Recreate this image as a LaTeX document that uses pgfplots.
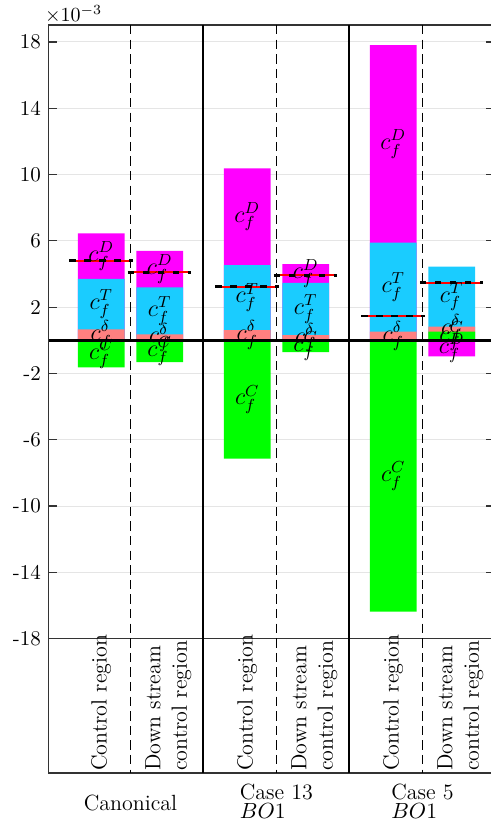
\documentclass[border=0pt]{standalone}
\usepackage{pgfplots}
\pgfplotsset{compat=1.18}
\definecolor{cD}{RGB}{255,0,255}
\definecolor{cT}{RGB}{26,204,255}
\definecolor{cdel}{RGB}{255,128,128}
\definecolor{cC}{RGB}{0,255,0}
\begin{document}
\fontsize{11}{13.2}\selectfont
\begin{tikzpicture}
\useasboundingbox (-24.35pt,-26.5pt) rectangle (221.15pt,386.5pt);
\begin{axis}[
 at={(0pt,0pt)}, anchor=south west,
 scale only axis, width=222.4pt, height=374pt,
 xmin=0.44, xmax=3.4866, ymin=-26.1, ymax=19.02,
 xtick=\empty,
 ytick={-18,-14,-10,-6,-2,2,6,10,14,18},
 yticklabels={-18,-14,-10,-6,-2,2,6,10,14,18},
 ymajorgrids, grid style={black!10, line width=0.5pt},
 tick align=inside, major tick length=4pt,
 axis line style={black!80, line width=0.65pt},
 ytick style={black!80, line width=0.6pt},
 yticklabel style={font=\fontsize{10.5}{12}\selectfont},
 clip=false,
]
% cumulative tops of the stacked segments (x 10^-3)
\addplot[ybar, bar width=0.32, bar shift=0pt, fill=cD, draw=none] coordinates {(0.8,6.45) (1.2,5.39) (1.8,10.37) (2.2,4.60) (2.8,17.81) (3.2,-0.97)};
\addplot[ybar, bar width=0.32, bar shift=0pt, fill=cT, draw=none] coordinates {(0.8,3.70) (1.2,3.20) (1.8,4.54) (2.2,3.47) (2.8,5.89) (3.2,4.44)};
\addplot[ybar, bar width=0.32, bar shift=0pt, fill=cdel, draw=none] coordinates {(0.8,0.66) (1.2,0.36) (1.8,0.62) (2.2,0.32) (2.8,0.52) (3.2,0.82)};
\addplot[ybar, bar width=0.32, bar shift=0pt, fill=cC, draw=none] coordinates {(0.8,-1.63) (1.2,-1.31) (1.8,-7.14) (2.2,-0.71) (2.8,-16.37) (3.2,0.52)};

% frame lines
\draw[black, line width=1.3pt] (axis cs:0.44,0) -- (axis cs:3.4866,0);
\draw[black!80, line width=0.7pt] (axis cs:0.44,-18) -- (axis cs:3.4866,-18);
\draw[black!80, line width=0.65pt] (axis cs:0.44,-26.1) -- (axis cs:3.4866,-26.1);
\draw[black, line width=0.5pt, dash pattern=on 4.7pt off 2.6pt] (axis cs:1,19.02) -- (axis cs:1,-26.1);
\draw[black, line width=0.5pt, dash pattern=on 4.7pt off 2.6pt] (axis cs:2,19.02) -- (axis cs:2,-26.1);
\draw[black, line width=0.5pt, dash pattern=on 4.7pt off 2.6pt] (axis cs:3,19.02) -- (axis cs:3,-26.1);
\draw[black, line width=1pt] (axis cs:1.5,19.02) -- (axis cs:1.5,-26.1);
\draw[black, line width=1pt] (axis cs:2.5,19.02) -- (axis cs:2.5,-26.1);

% totals
\addplot[red, line width=1.1pt] coordinates {(0.582,4.80) (1.018,4.80)};
\addplot[red, line width=1.1pt] coordinates {(0.982,4.10) (1.418,4.10)};
\addplot[red, line width=1.1pt] coordinates {(1.582,3.23) (2.018,3.23)};
\addplot[red, line width=1.1pt] coordinates {(1.982,3.92) (2.418,3.92)};
\addplot[red, line width=1.1pt] coordinates {(2.582,1.47) (3.018,1.47)};
\addplot[red, line width=1.1pt] coordinates {(2.982,3.47) (3.418,3.47)};
\addplot[black, line width=1.3pt, dash pattern=on 3.3pt off 4.2pt] coordinates {(0.582,4.80) (1.018,4.80)};
\addplot[black, line width=1.3pt, dash pattern=on 3.3pt off 4.2pt] coordinates {(0.982,4.10) (1.418,4.10)};
\addplot[black, line width=1.3pt, dash pattern=on 3.3pt off 4.2pt] coordinates {(1.582,3.23) (2.018,3.23)};
\addplot[black, line width=1.3pt, dash pattern=on 3.3pt off 4.2pt] coordinates {(1.982,3.92) (2.418,3.92)};
\addplot[black, line width=1.3pt, dash pattern=on 3.3pt off 4.2pt] coordinates {(2.582,1.47) (3.018,1.47)};
\addplot[black, line width=1.3pt, dash pattern=on 3.3pt off 4.2pt] coordinates {(2.982,3.47) (3.418,3.47)};

% segment labels
\begin{scope}[every node/.style={inner sep=0pt, font=\fontsize{12}{14}\selectfont}]
\node at (axis cs:0.8,5.075) {$c_f^D$};
\node at (axis cs:1.2,4.295) {$c_f^D$};
\node at (axis cs:1.8,7.455) {$c_f^D$};
\node at (axis cs:2.2,4.035) {$c_f^D$};
\node at (axis cs:2.8,11.85) {$c_f^D$};
\node at (axis cs:3.2,-0.485) {$c_f^D$};
\node at (axis cs:0.8,2.18) {$c_f^T$};
\node at (axis cs:1.2,1.78) {$c_f^T$};
\node at (axis cs:1.8,2.58) {$c_f^T$};
\node at (axis cs:2.2,1.895) {$c_f^T$};
\node at (axis cs:2.8,3.205) {$c_f^T$};
\node at (axis cs:3.2,2.63) {$c_f^T$};
\node at (axis cs:0.8,0.33) {$c_f^\delta$};
\node at (axis cs:1.2,0.18) {$c_f^\delta$};
\node at (axis cs:1.8,0.31) {$c_f^\delta$};
\node at (axis cs:2.2,0.16) {$c_f^\delta$};
\node at (axis cs:2.8,0.26) {$c_f^\delta$};
\node at (axis cs:3.2,0.67) {$c_f^\delta$};
\node at (axis cs:0.8,-0.815) {$c_f^C$};
\node at (axis cs:1.2,-0.655) {$c_f^C$};
\node at (axis cs:1.8,-3.57) {$c_f^C$};
\node at (axis cs:2.2,-0.355) {$c_f^C$};
\node at (axis cs:2.8,-8.185) {$c_f^C$};
\node at (axis cs:3.2,0.26) {$c_f^C$};
\end{scope}

% scale label
\node[anchor=base west, inner sep=0pt, font=\fontsize{10}{12}\selectfont] at (rel axis cs:0,1) [xshift=-2pt, yshift=1.6pt] {$\times10^{-3}$};

% rotated category labels
\node[rotate=90, anchor=west, inner sep=1pt] at (axis cs:0.8,-26.1) {Control region};
\node[rotate=90, anchor=west, inner sep=1pt] at (axis cs:1.8,-26.1) {Control region};
\node[rotate=90, anchor=west, inner sep=1pt] at (axis cs:2.8,-26.1) {Control region};
\node[rotate=90, anchor=west, inner sep=1pt, align=left] at (axis cs:1.26,-26.1) {Down stream\\control region};
\node[rotate=90, anchor=west, inner sep=1pt, align=left] at (axis cs:2.26,-26.1) {Down stream\\control region};
\node[rotate=90, anchor=west, inner sep=1pt, align=left] at (axis cs:3.26,-26.1) {Down stream\\control region};

% group labels
\node[yshift=-15pt] at (axis cs:1,-26.1) {Canonical};
\node[yshift=-14pt, align=left] at (axis cs:2,-26.1) {Case 13\\[-3.7pt]$BO$1};
\node[yshift=-14pt, align=left] at (axis cs:3,-26.1) {Case 5\\[-3.7pt]$BO$1};
\end{axis}
\end{tikzpicture}
\end{document}
